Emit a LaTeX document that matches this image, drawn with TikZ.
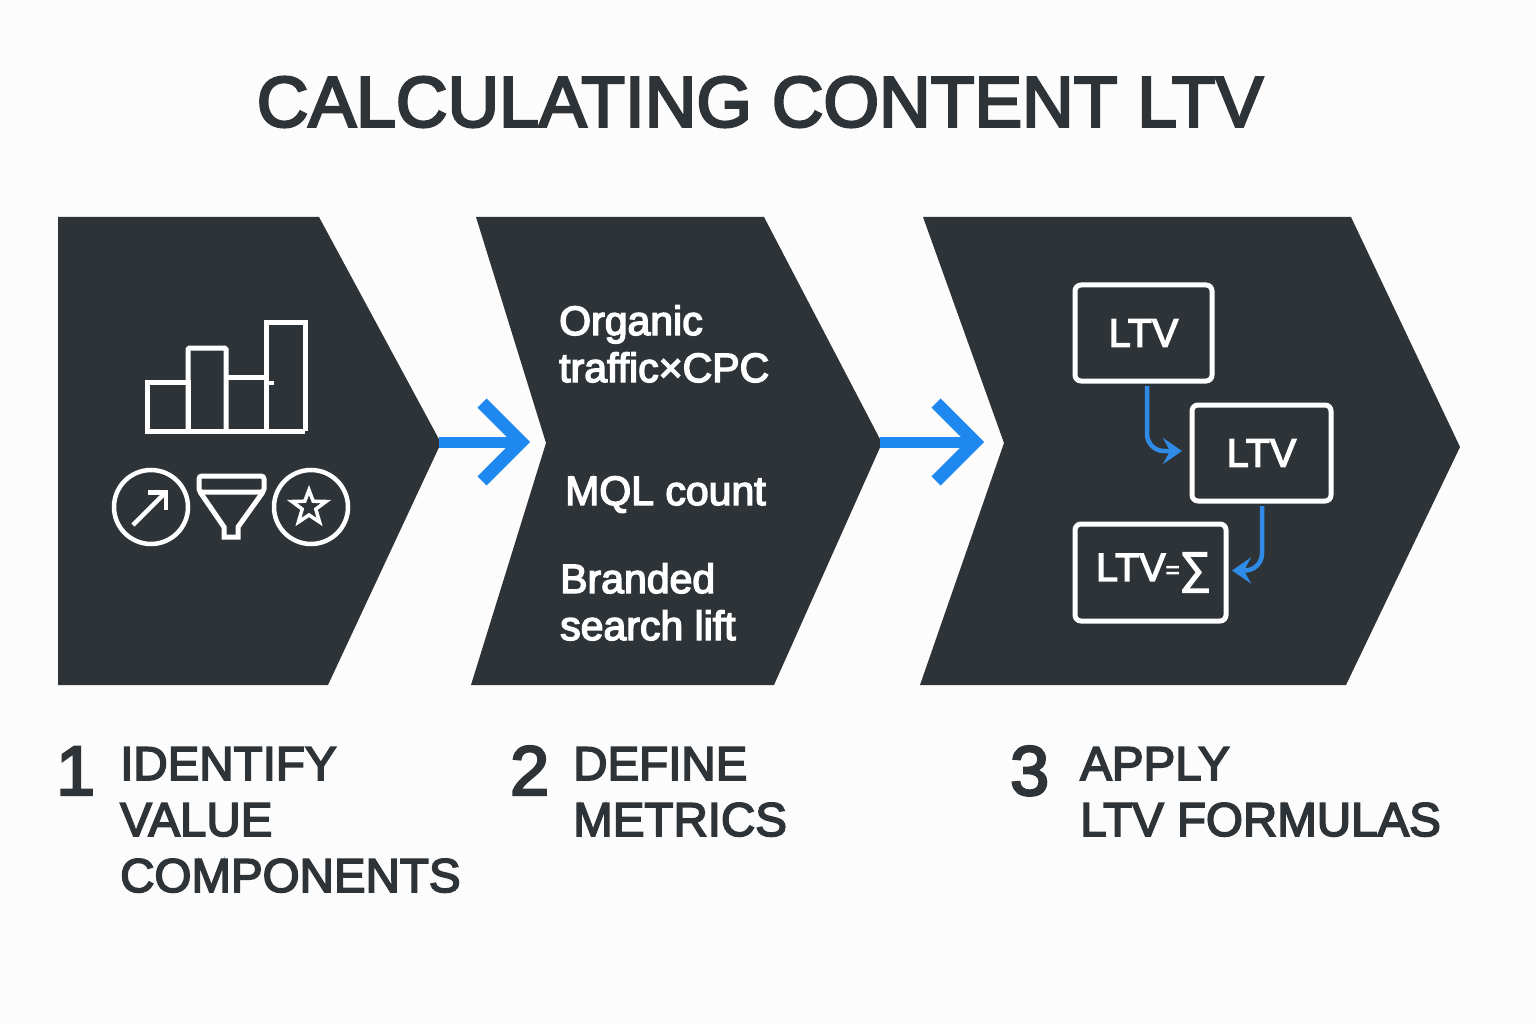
\documentclass[tikz,border=0pt]{standalone}
\usepackage{fontspec}
\usetikzlibrary{arrows.meta,calc}
\setmainfont{Liberation Sans}[FakeBold=3.5]
\definecolor{ink}{HTML}{2E3338}
\definecolor{paper}{HTML}{FCFCFC}
\definecolor{flow}{HTML}{1E88F0}
\definecolor{flowb}{HTML}{2F8BE6}
\tikzset{
  chev/.style={fill=ink,draw=none},
  stemline/.style={draw=flow,line width=11pt},
  barb/.style={draw=flow,line width=13pt,miter limit=10},
  icon/.style={draw=white,line width=5pt,line join=miter},
  ltvbox/.style={draw=white,line width=5pt,rounded corners=6pt,inner sep=0pt,outer sep=0pt,text=white,font=\fontsize{39.5}{44}\selectfont},
  minor/.style={draw=flowb,line width=4.5pt,rounded corners=17pt,-{Stealth[length=19pt,width=26pt,inset=7pt]}},
  metric/.style={anchor=base west,inner sep=0pt,text=white,align=left,font=\fontsize{41}{47}\selectfont},
  stepnum/.style={anchor=base west,inner sep=0pt,text=ink,font=\fontsize{70}{70}\selectfont},
  steplabel/.style={anchor=base west,inner sep=0pt,text=ink,align=left,font=\fontsize{47.5}{56}\selectfont},
}
\begin{document}
\begin{tikzpicture}[x=1pt,y=-1pt]
\fill[paper] (0,0) rectangle (1536,1024);
\useasboundingbox (0,0) rectangle (1536,1024);
\node[text=ink,inner sep=0pt,font=\fontsize{71.5}{80}\selectfont] (title) at (760,102) {CALCULATING CONTENT LTV};
% chevrons
\fill[chev] (58,217) -- (319,217) -- (441,443) -- (328,685) -- (58,685) -- cycle;
\fill[chev] (476,217) -- (764,217) -- (882,443) -- (774,685) -- (471,685) -- (546,443) -- cycle;
\fill[chev] (923,217) -- (1351,217) -- (1460,447) -- (1346,685) -- (920,685) -- (1004,443) -- cycle;
\coordinate (tipA) at (439,442);
\coordinate (headA) at (526,442);
\coordinate (tipB) at (880,442);
\coordinate (headB) at (980,442);
% flow arrows
\draw[stemline] (tipA) -- ($(headA)+(-8,0)$);
\draw[barb] ($(headA)+(-44,-39)$) -- ($(headA)+(-5,0)$) -- ($(headA)+(-44,39)$);
\draw[stemline] (tipB) -- ($(headB)+(-8,0)$);
\draw[barb] ($(headB)+(-44,-39)$) -- ($(headB)+(-5,0)$) -- ($(headB)+(-44,39)$);
% bar icon
\draw[icon] (147,431) rectangle (188,382);
\draw[icon,rounded corners=1.5pt] (188,431) -- (188,348) -- (226,348) -- (226,431);
\draw[icon] (226,377) -- (266,377);
\draw[icon] (147,431) -- (305,431);
\draw[icon] (266,431) -- (266,322) -- (305,322) -- (305,431);
\draw[icon,line width=3.5pt] (266,383) -- (274,383);
% circle icons
\draw[icon,line width=4.5pt] (151,507) circle (37);
\draw[icon,line width=4.5pt] (133,525) -- (165,493);
\draw[icon,line width=4.5pt] (148,492.5) -- (166,492.5) -- (166,510);
\draw[icon,rounded corners=3pt] (199,476) -- (264,476) -- (264,492) -- (199,492) -- cycle;
\draw[icon] (200,492) -- (224,527) -- (224,537) -- (238,537) -- (238,527) -- (263,492);
\draw[icon,line width=4.5pt] (311,507) circle (37);
\draw[icon,line width=3.5pt] (309.0,490.0) -- (313.2,501.2) -- (326.1,501.5) -- (315.8,509.1) -- (319.6,522.1) -- (309.0,515.0) -- (298.4,522.1) -- (302.2,509.1) -- (291.9,501.5) -- (304.8,501.2) -- cycle;
% metrics
\node[metric] (m1) at (559,382) {Organic\\traffic×CPC};
\node[metric] (m2) at (565,505) {MQL count};
\node[metric] (m3) at (560,640) {Branded\\search lift};
% LTV boxes
\node[ltvbox,minimum width=137pt,minimum height=96pt] (b1) at (1143.5,333) {LTV};
\node[ltvbox,minimum width=139pt,minimum height=96pt] (b2) at (1261.5,453) {LTV};
\node[ltvbox,minimum width=151pt,minimum height=97pt] (b3) at (1150.5,572.5) {\hspace*{6pt}\raisebox{-3pt}{LTV}\raisebox{0pt}{\fontsize{24}{24}\selectfont=}\raisebox{-5pt}{\fontsize{44}{44}\selectfont ∑}};
\draw[minor] ([shift={(3.5,5)}]b1.south) |- ([shift={(-10,-2)}]b2.west);
\draw[minor] ([shift={(0.5,5)}]b2.south) |- ([shift={(6,-2)}]b3.east);
% step labels
\node[stepnum] (n1) at (56,795) {1};
\node[steplabel] (l1) at (120,892) {IDENTIFY\\VALUE\\COMPONENTS};
\node[stepnum] (n2) at (510,795) {2};
\node[steplabel] (l2) at (573,836) {DEFINE\\METRICS};
\node[stepnum] (n3) at (1010,795) {3};
\node[steplabel] (l3) at (1080,836) {APPLY\\LTV FORMULAS};
\end{tikzpicture}
\end{document}
